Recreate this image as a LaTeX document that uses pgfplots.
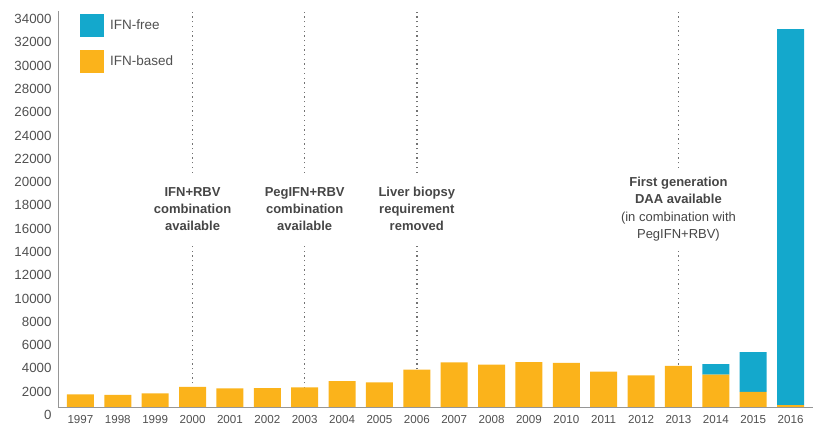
\documentclass[border=0pt]{standalone}
\usepackage{fontspec}
\setmainfont{Liberation Sans}
\usepackage{pgfplots}
\pgfplotsset{compat=1.18}
\definecolor{ifnfree}{RGB}{20,168,204}
\definecolor{ifnbased}{RGB}{251,179,27}
\definecolor{annot}{RGB}{70,70,70}
\definecolor{tickc}{RGB}{80,80,80}
\definecolor{axisc}{RGB}{150,150,150}
\definecolor{dotc}{RGB}{115,115,115}
\pgfplotsset{sqlegend/.style={legend image code/.code={\fill[##1,draw=none] (0pt,-11.5pt) rectangle (24pt,11.5pt);}}}
\begin{document}
\begin{tikzpicture}
\path[use as bounding box] (-58pt,-20pt) rectangle (762pt,407pt);
\begin{axis}[
  at={(0,0)}, anchor=south west,
  width=755pt, height=396pt, scale only axis,
  xmin=1996.4, xmax=2016.6, ymin=0, ymax=34000,
  ybar stacked, bar width=27pt,
  axis x line=bottom, axis y line=left,
  axis line style={draw=axisc, line width=0.8pt, -},
  xtick={1997,1998,1999,2000,2001,2002,2003,2004,2005,2006,2007,2008,2009,2010,2011,2012,2013,2014,2015,2016},
  ytick={0,2000,...,34000},
  scaled y ticks=false,
  major tick length=0pt,
  /pgf/number format/1000 sep={},
  /pgf/number format/fixed,
  /pgf/number format/assume math mode=true,
  xticklabel style={font=\fontsize{11.6}{13}\selectfont, text=tickc, yshift=-5pt},
  yticklabel style={font=\fontsize{13.3}{15}\selectfont, text=tickc, yshift=-8pt, xshift=-3pt},
  legend style={at={(0.0291,0.9924)}, anchor=north west, draw=none, fill=none,
    inner sep=0pt, row sep=13pt, column sep=6pt,
    nodes={inner sep=0pt}, font=\fontsize{13.5}{15}\selectfont, text=tickc},
  legend cell align=left,
  reverse legend,
]
\addplot[fill=ifnbased, draw=none, sqlegend] coordinates {
 (1997,1090) (1998,1030) (1999,1180) (2000,1720) (2001,1600) (2002,1630)
 (2003,1690) (2004,2230) (2005,2120) (2006,3200) (2007,3840) (2008,3630)
 (2009,3860) (2010,3780) (2011,3030) (2012,2720) (2013,3520) (2014,2770)
 (2015,1290) (2016,170)};
\addplot[fill=ifnfree, draw=none, sqlegend] coordinates {
 (1997,0) (1998,0) (1999,0) (2000,0) (2001,0) (2002,0)
 (2003,0) (2004,0) (2005,0) (2006,0) (2007,0) (2008,0)
 (2009,0) (2010,0) (2011,0) (2012,0) (2013,0) (2014,920)
 (2015,3430) (2016,32280)};
\legend{IFN-based, IFN-free}
\tikzset{dl/.style={dotc, line width=1.5pt, dash pattern=on 1.3pt off 3.4pt}}
\draw[dl] (axis cs:2000,0) -- (axis cs:2000,14080);
\draw[dl] (axis cs:2000,20100) -- (axis cs:2000,34000);
\draw[dl] (axis cs:2003,0) -- (axis cs:2003,14080);
\draw[dl] (axis cs:2003,20100) -- (axis cs:2003,34000);
\draw[dl] (axis cs:2006,0) -- (axis cs:2006,14080);
\draw[dl] (axis cs:2006,20100) -- (axis cs:2006,34000);
\draw[dl] (axis cs:2013,0) -- (axis cs:2013,13480);
\draw[dl] (axis cs:2013,20520) -- (axis cs:2013,34000);
\node[align=center, font=\fontsize{13}{17}\selectfont\bfseries, text=annot] at (axis cs:2000,17000) {IFN+RBV\\combination\\available};
\node[align=center, font=\fontsize{13}{17}\selectfont\bfseries, text=annot] at (axis cs:2003,17000) {PegIFN+RBV\\combination\\available};
\node[align=center, font=\fontsize{13}{17}\selectfont\bfseries, text=annot] at (axis cs:2006,17000) {Liver biopsy\\requirement\\removed};
\node[align=center, font=\fontsize{13}{17.3}\selectfont, text=annot] at (axis cs:2013,17000) {\textbf{First generation}\\\textbf{DAA available}\\(in combination with\\PegIFN+RBV)};
\end{axis}
\end{tikzpicture}
\end{document}
